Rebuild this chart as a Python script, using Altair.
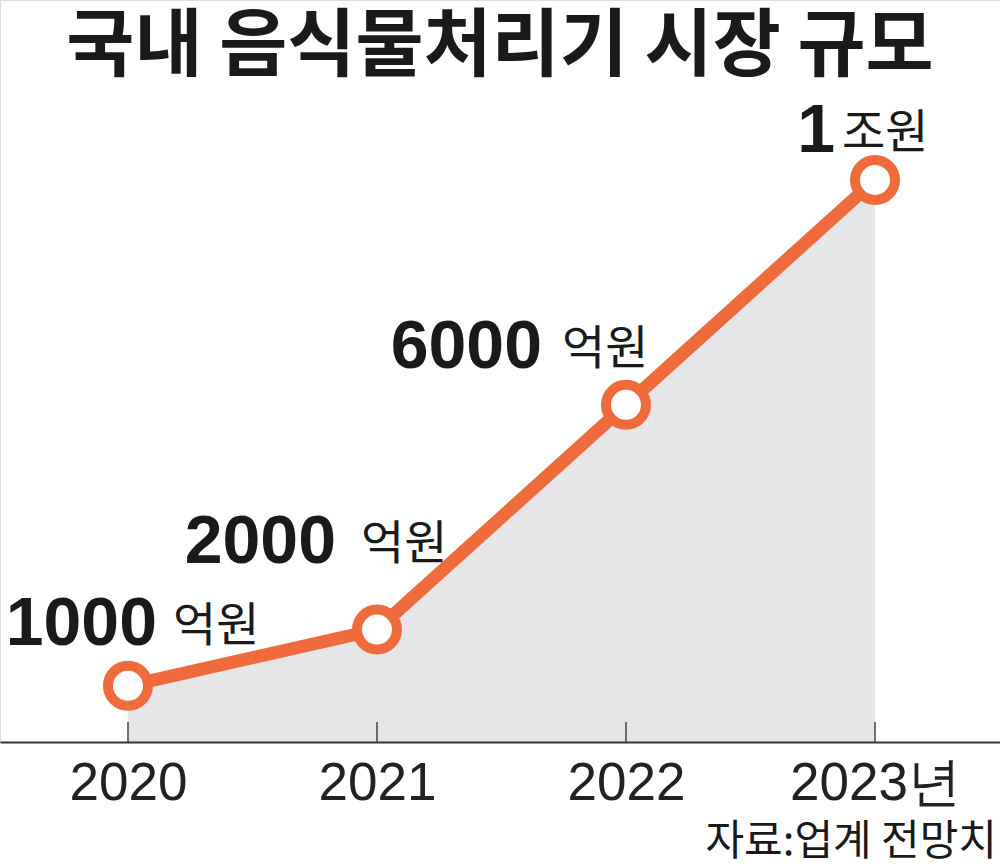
import altair as alt
import pandas as pd

# ---- data ----
years = [2020, 2021, 2022, 2023]
values = [1000, 2000, 6000, 10000]          # 억원
label_nums = ["1000", "2000", "6000", "1"]
label_units = ["억원", "억원", "억원", "조원"]
title_text = "국내 음식물처리기 시장 규모"
source_text = "자료:업계 전망치"

df = pd.DataFrame({"year": years, "value": values,
                   "num": label_nums, "unit": label_units})

# ---- style ----
ORANGE = "#F06B3B"
GRAY = "#E6E6E8"
NUM_FONT = "Liberation Sans"
KR_FONT = "Noto Sans CJK KR"
# per-label offsets (num right edge dx, unit left dx, baseline dy)
offsets = [(29, 45, -41), (-41, -16, -67), (-84, -64, -37), (-40, -33, -28)]

x_scale = alt.Scale(domain=[2019.486, 2023.502], nice=False, zero=False)
y_scale = alt.Scale(domain=[0, 13203], nice=False, zero=True)

label_expr = "datum.value == 2023 ? '2023년' : '' + datum.value"

base = alt.Chart(df)

xenc = alt.X("year:Q", scale=x_scale,
             axis=alt.Axis(values=years, labelExpr=label_expr, title=None,
                           grid=False, ticks=False, domain=True,
                           domainColor="#333333", domainWidth=2,
                           labelFont=NUM_FONT, labelFontSize=53,
                           labelColor="#222222", labelPadding=15,
                           labelBaseline="top", labelFlush=False,
                           labelOverlap=False, labelLimit=0, zindex=2))
yenc = alt.Y("value:Q", scale=y_scale, axis=None)

area = base.mark_area(color=GRAY).encode(x=xenc, y=yenc)

ticks = base.mark_rule(color="#444444", strokeWidth=1.5).encode(
    x=alt.X("year:Q", scale=x_scale), y=alt.value(722), y2=alt.value(742))

line = base.mark_line(color=ORANGE, strokeWidth=13).encode(
    x=alt.X("year:Q", scale=x_scale), y=alt.Y("value:Q", scale=y_scale))

points = base.mark_point(shape="circle", filled=False, fill="white",
                         fillOpacity=1, stroke=ORANGE, strokeWidth=10,
                         size=1600, opacity=1).encode(
    x=alt.X("year:Q", scale=x_scale), y=alt.Y("value:Q", scale=y_scale))

label_layers = []
for i, (dxn, dxu, dy) in enumerate(offsets):
    sub = alt.Chart(df.iloc[[i]])
    label_layers.append(sub.mark_text(
        font=NUM_FONT, fontSize=68, fontWeight="bold", color="#1a1a1a",
        align="right", baseline="alphabetic", dx=dxn, dy=dy).encode(
        x=alt.X("year:Q", scale=x_scale), y=alt.Y("value:Q", scale=y_scale),
        text="num:N"))
    label_layers.append(sub.mark_text(
        font=KR_FONT, fontSize=47, fontWeight="normal", color="#1a1a1a",
        align="left", baseline="alphabetic", dx=dxu, dy=dy - 4).encode(
        x=alt.X("year:Q", scale=x_scale), y=alt.Y("value:Q", scale=y_scale),
        text="unit:N"))

title = alt.Chart(pd.DataFrame({"t": [title_text]})).mark_text(
    font=KR_FONT, fontSize=74, fontWeight="bold", color="#1a1a1a",
    align="center", baseline="alphabetic").encode(
    text="t:N", x=alt.value(500), y=alt.value(70))

source = alt.Chart(pd.DataFrame({"t": [source_text]})).mark_text(
    font=KR_FONT, fontSize=42, color="#1a1a1a",
    align="right", baseline="middle").encode(
    text="t:N", x=alt.value(997), y=alt.value(842))

chart = alt.layer(area, ticks, line, points, *label_layers, title, source).properties(
    width=1000, height=742,
    autosize=alt.AutoSizeParams(type="none"),
    padding={"left": 0, "top": 0, "right": 0, "bottom": 126},
).configure_view(stroke=None).configure(background="white")

chart.save("out.html", embed_options={"renderer": "svg", "actions": False})
